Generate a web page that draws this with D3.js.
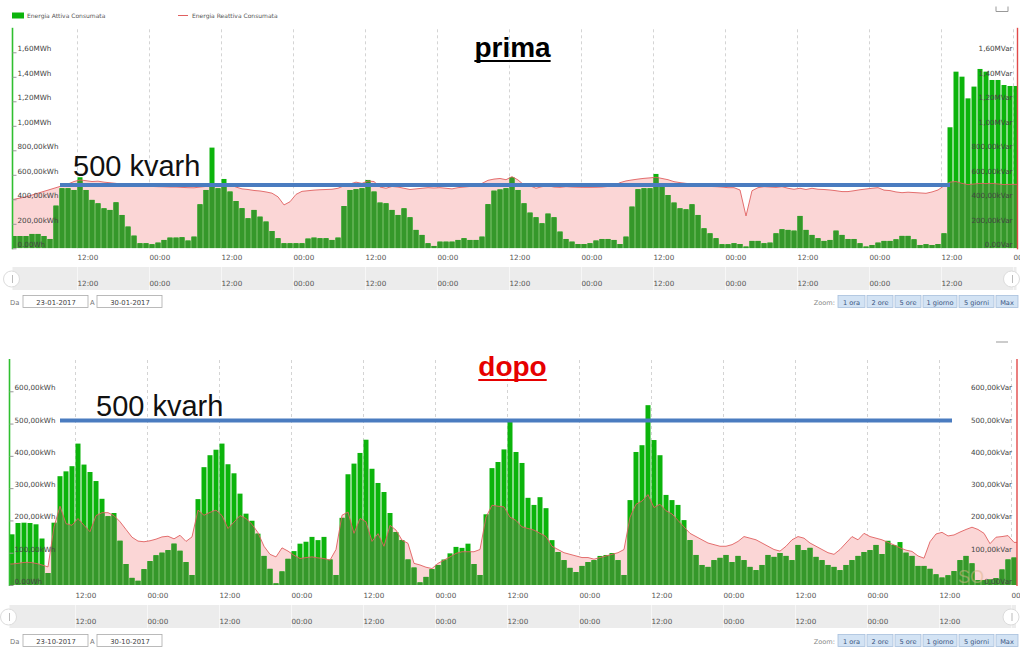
<!DOCTYPE html>
<html><head><meta charset="utf-8">
<script src="https://cdn.jsdelivr.net/npm/d3@7"></script>
<style>body{margin:0;background:#fff}svg{display:block}</style>
</head><body>
<svg id="c" width="1024" height="651"></svg>
<script>
// ---------- DATA ----------
const legendLabels = ["Energia Attiva Consumata", "Energia Reattiva Consumata"];
const zoomLabels = ["1 ora","2 ore","5 ore","1 giorno","5 giorni","Max"];
const timeTicks = [12,24,36,48,60,72,84,96,108,120,132,144,156,168];
const timeLabels = ["12:00","00:00","12:00","00:00","12:00","00:00","12:00","00:00","12:00","00:00","12:00","00:00","12:00","00:00"];

const topTickValues = [0,200,400,600,800,1000,1200,1400,1600];
const topLeftLabels = ["0.00Wh","200,00kWh","400,00kWh","600,00kWh","800,00kWh","1,00MWh","1,20MWh","1,40MWh","1,60MWh"];
const topRightLabels = ["0,00Var","200,00kVar","400,00kVar","600,00kVar","800,00kVar","1,00MVar","1,20MVar","1,40MVar","1,60MVar"];
const bottomTickValues = [0,100,200,300,400,500,600];
const bottomLeftLabels = ["0.00Wh","100,00kWh","200,00kWh","300,00kWh","400,00kWh","500,00kWh","600,00kWh"];
const bottomRightLabels = ["0,00Var","100,00kVar","200,00kVar","300,00kVar","400,00kVar","500,00kVar","600,00kVar"];

// "prima" (23-01-2017 .. 30-01-2017), hourly kWh
const topActive = [
100,100,100,117,117,100,76,348,490,490,
476,580,476,395,367,326,313,375,272,177,
103,41,41,33,46,68,87,87,90,63,
95,359,476,822,490,566,463,386,327,245,
313,258,218,141,82,41,41,41,41,79,
87,82,82,68,87,345,476,482,490,558,
463,373,367,313,272,326,253,150,109,41,
19,54,54,54,68,82,68,68,95,360,
470,480,490,580,476,367,291,253,204,283,
253,136,76,54,35,35,41,63,76,76,
68,35,95,340,482,490,490,607,503,435,
373,326,318,359,272,163,122,82,33,33,
41,35,14,60,60,41,46,122,155,150,
144,264,150,109,82,60,68,144,109,76,
76,41,14,27,46,60,60,73,101,101,
73,27,33,27,35,122,988,1442,1401,1224,
1320,1464,1442,1374,1374,1333,1325,1325];
const topReactive = [
400,410,420,435,450,465,480,495,510,525,
545,558,552,545,548,540,535,530,522,515,
512,508,505,505,503,502,500,500,497,495,
494,500,505,510,518,525,520,500,485,480,
472,468,460,450,420,354,380,440,465,470,
475,478,480,482,490,510,525,540,530,550,
545,500,490,505,500,490,480,485,490,495,
492,495,490,485,495,500,505,515,530,555,
565,570,560,585,558,517,510,490,503,510,
500,497,503,500,498,497,497,498,500,505,
510,536,550,558,565,571,575,580,570,560,
544,536,530,525,518,510,505,503,500,495,
495,476,264,470,495,503,500,497,503,490,
482,490,480,490,482,480,476,470,463,463,
470,478,484,490,495,475,471,460,454,458,
455,452,449,460,476,510,540,545,530,520,
525,530,528,530,525,520,522,522];

// "dopo" (23-10-2017 .. 30-10-2017), hourly kWh
const bottomActive = [
157,192,193,192,188,144,37,193,337,352,
368,438,373,350,322,267,213,223,137,65,
22,13,49,74,92,100,108,128,106,71,
31,266,365,402,419,438,374,346,283,221,
199,159,90,50,5,42,81,105,128,134,
149,139,149,79,31,208,343,376,409,450,
360,316,288,223,164,139,79,54,8,25,
49,62,79,98,118,115,128,65,31,219,
362,381,420,505,412,378,270,248,272,238,
139,102,77,53,40,59,71,77,90,93,
99,77,31,263,412,433,557,449,402,279,
263,248,201,139,93,62,56,77,84,93,
71,90,77,56,46,62,93,87,99,90,
77,124,108,115,87,77,62,56,46,62,
77,90,102,108,124,96,137,124,133,100,
90,59,59,50,33,23,30,43,77,90,
67,15,15,17,21,48,79,85];
const bottomReactive = [
65,67,70,70,67,62,56,180,244,190,
185,206,185,165,215,224,224,215,196,172,
148,136,134,137,142,149,151,143,154,135,
149,232,216,225,232,215,175,195,215,206,
188,162,120,95,87,115,105,92,82,85,
87,84,82,77,110,216,226,160,206,196,
135,159,120,185,170,139,129,67,62,55,
51,67,77,87,98,103,103,103,110,210,
247,244,242,210,200,180,175,170,160,150,
120,110,100,95,90,85,85,80,85,90,
95,100,110,210,250,260,280,240,250,230,
220,200,180,160,150,140,130,125,120,120,
125,135,150,145,140,130,120,110,105,120,
140,150,145,130,120,110,100,95,110,130,
150,140,160,150,145,140,132,124,115,108,
104,90,83,134,158,163,152,155,164,172,
179,172,160,128,148,150,153,132];

const annotationValue = 500;
const annotationText = "500 kvarh";

// ---------- DRAWING ----------
const svg = d3.select("#c");
const defs = svg.append("defs");
const SMALL = "DejaVu Sans, Verdana, sans-serif";
const GREEN = "#0cb40c", DARK = "#35982a", PINK = "#fbd6d6", RED = "#e06060";

function drawChart(cfg){
  const g = svg.append("g");
  const x = d3.scaleLinear().domain([0,168]).range([cfg.x0, cfg.x0 + 1008]);
  const y = d3.scaleLinear().domain([0,cfg.yMax]).range([cfg.zeroY, cfg.topY]);
  const ph = cfg.zeroY - cfg.topY;

  const clip = cfg.id + "-clip";
  defs.append("clipPath").attr("id", clip).append("rect")
    .attr("x", cfg.left).attr("y", cfg.topY).attr("width", cfg.right - cfg.left).attr("height", ph);
  const lblClip = cfg.id + "-lclip";
  defs.append("clipPath").attr("id", lblClip).append("rect")
    .attr("x", 0).attr("y", 0).attr("width", 1020).attr("height", 651);

  // grid
  g.append("g").attr("transform", `translate(0,${cfg.zeroY})`)
    .call(d3.axisBottom(x).tickValues(timeTicks).tickSize(-ph).tickFormat(""))
    .call(a => { a.select(".domain").remove();
      a.selectAll("line").attr("stroke", "#d4d4d4").attr("stroke-dasharray", "3,3"); });

  const plot = g.append("g").attr("clip-path", `url(#${clip})`);
  const cx = i => x(i + 1.5);
  const pts = [[cfg.left, cfg.reactive[0]]]
    .concat(cfg.reactive.map((v,i) => [cx(i), v]))
    .concat([[cfg.right, cfg.reactive[cfg.reactive.length-1]]]);
  const area = d3.area().x(d => d[0]).y0(cfg.zeroY).y1(d => y(d[1]));
  const line = d3.line().x(d => d[0]).y(d => y(d[1]));

  plot.append("path").attr("d", area(pts)).attr("fill", PINK);

  const barW = 5;
  plot.append("g").selectAll("rect").data(cfg.active).join("rect")
    .attr("x", (d,i) => cx(i) - barW/2).attr("width", barW)
    .attr("y", d => y(d)).attr("height", d => cfg.zeroY - y(d)).attr("fill", GREEN);

  const aclip = cfg.id + "-aclip";
  defs.append("clipPath").attr("id", aclip).append("path").attr("d", area(pts));
  plot.append("g").attr("clip-path", `url(#${aclip})`).selectAll("rect").data(cfg.active).join("rect")
    .attr("x", (d,i) => cx(i) - barW/2).attr("width", barW)
    .attr("y", d => y(d)).attr("height", d => cfg.zeroY - y(d)).attr("fill", DARK);

  plot.append("path").attr("d", line(pts)).attr("fill", "none").attr("stroke", RED).attr("stroke-width", 0.9);

  if (cfg.watermark) {
    g.append("text").attr("x", 958).attr("y", cfg.zeroY - 2).text(cfg.watermark)
      .attr("font-family", "Liberation Sans, Arial, sans-serif").attr("font-size", 18)
      .attr("fill", "#d9b48a").attr("opacity", 0.5);
  }

  // axis lines
  g.append("line").attr("x1", cfg.left).attr("x2", cfg.left).attr("y1", cfg.topY).attr("y2", cfg.zeroY + 1)
    .attr("stroke", "#2fbf2f").attr("stroke-width", 1.6);
  g.append("line").attr("x1", cfg.right).attr("x2", cfg.right).attr("y1", cfg.topY).attr("y2", cfg.zeroY + 1)
    .attr("stroke", "#e24a4a").attr("stroke-width", 1.4);

  // left axis
  g.append("g").attr("transform", `translate(${cfg.left},0)`)
    .call(d3.axisRight(y).tickValues(cfg.ticks).tickFormat((d,i) => cfg.leftLabels[i]).tickSize(4).tickPadding(1))
    .call(a => { a.select(".domain").remove();
      a.selectAll("line").attr("stroke", "#999");
      a.selectAll("text").attr("dy", "-0.2em").attr("font-size", 7.2).attr("font-family", SMALL).attr("fill", "#444"); });
  // right axis
  g.append("g").attr("transform", `translate(${cfg.right},0)`)
    .call(d3.axisLeft(y).tickValues(cfg.ticks).tickFormat((d,i) => cfg.rightLabels[i]).tickSize(0).tickPadding(5))
    .call(a => { a.select(".domain").remove();
      a.selectAll("text").attr("dy", "-0.2em").attr("font-size", 7.2).attr("font-family", SMALL).attr("fill", "#444"); });

  // time axis
  g.append("g").attr("clip-path", `url(#${lblClip})`).append("g").attr("transform", `translate(0,${cfg.labelY})`)
    .call(d3.axisBottom(x).tickValues(timeTicks).tickFormat((d,i) => timeLabels[i]).tickSize(0).tickPadding(0))
    .call(a => { a.select(".domain").remove();
      a.selectAll("text").attr("text-anchor", "start").attr("dy", 0).attr("y", 0)
        .attr("font-size", 7.2).attr("font-family", SMALL).attr("fill", "#555"); });

  // navigator
  const nav = g.append("g");
  nav.append("rect").attr("x", cfg.left).attr("y", cfg.navY).attr("width", cfg.right - cfg.left - 1).attr("height", 23).attr("fill", "#ececec");
  nav.append("g").attr("transform", `translate(0,${cfg.navY + 23})`)
    .call(d3.axisBottom(x).tickValues(timeTicks).tickSize(-23).tickFormat(""))
    .call(a => { a.select(".domain").remove(); a.selectAll("line").attr("stroke", "#f7f7f7"); });
  nav.append("g").attr("clip-path", `url(#${lblClip})`).append("g").attr("transform", `translate(0,${cfg.navY + 19})`)
    .call(d3.axisBottom(x).tickValues(timeTicks.slice(0,13)).tickFormat((d,i) => timeLabels[i]).tickSize(0).tickPadding(0))
    .call(a => { a.select(".domain").remove();
      a.selectAll("text").attr("text-anchor", "start").attr("dy", 0).attr("y", 0)
        .attr("font-size", 7.2).attr("font-family", SMALL).attr("fill", "#555"); });
  [[cfg.left - 1, 1], [cfg.right - 6, -1]].forEach(([hx]) => {
    nav.append("circle").attr("cx", hx).attr("cy", cfg.navY + 12).attr("r", 8)
      .attr("fill", "#fff").attr("stroke", "#dcdcdc");
    nav.append("line").attr("x1", hx + 1).attr("x2", hx + 1).attr("y1", cfg.navY + 8).attr("y2", cfg.navY + 16)
      .attr("stroke", "#bbb");
  });

  // date inputs
  const dr = g.append("g").attr("font-family", SMALL).attr("font-size", 6.8).attr("fill", "#444");
  dr.append("text").attr("x", 10).attr("y", cfg.dateY + 9).text("Da").attr("fill", "#777");
  dr.append("rect").attr("x", 23).attr("y", cfg.dateY).attr("width", 65).attr("height", 12).attr("fill", "#fff").attr("stroke", "#aaa").attr("stroke-width", 0.8);
  dr.append("text").attr("x", 56).attr("y", cfg.dateY + 9).attr("text-anchor", "middle").text(cfg.dateFrom);
  dr.append("text").attr("x", 90).attr("y", cfg.dateY + 9).text("A").attr("fill", "#777");
  dr.append("rect").attr("x", 97).attr("y", cfg.dateY).attr("width", 65).attr("height", 12).attr("fill", "#fff").attr("stroke", "#aaa").attr("stroke-width", 0.8);
  dr.append("text").attr("x", 130).attr("y", cfg.dateY + 9).attr("text-anchor", "middle").text(cfg.dateTo);

  // zoom buttons
  const zb = g.append("g").attr("font-family", SMALL).attr("font-size", 6.6);
  const widths = [27,26,26,34,35,22];
  let bx = 1018 - d3.sum(widths) - 2*(widths.length-1);
  zb.append("text").attr("x", bx - 3).attr("y", cfg.dateY + 9).attr("text-anchor", "end").attr("fill", "#888").text("Zoom:");
  zoomLabels.forEach((t,i) => {
    zb.append("rect").attr("x", bx).attr("y", cfg.dateY).attr("width", widths[i]).attr("height", 12)
      .attr("fill", "#d3e3f4").attr("stroke", "#a7bfdc").attr("stroke-width", 0.8);
    zb.append("text").attr("x", bx + widths[i]/2).attr("y", cfg.dateY + 9).attr("text-anchor", "middle").attr("fill", "#3a5580").text(t);
    bx += widths[i] + 2;
  });

  // annotation: 500 kvarh line
  g.append("line").attr("x1", 60).attr("x2", cfg.annEnd).attr("y1", y(annotationValue) + cfg.annShift).attr("y2", y(annotationValue) + cfg.annShift)
    .attr("stroke", "#4a7cc0").attr("stroke-width", 4);
  g.append("text").attr("x", cfg.annX).attr("y", cfg.annBase).text(annotationText)
    .attr("font-family", "Liberation Sans, Arial, sans-serif").attr("font-size", 29).attr("fill", "#111");

  // title
  const tt = g.append("text").attr("x", 512.5).attr("y", cfg.titleBase).attr("text-anchor", "middle").text(cfg.title)
    .attr("font-family", "Liberation Sans, Arial, sans-serif").attr("font-weight", "bold").attr("font-size", 28).attr("fill", cfg.titleColor);
  const tw = tt.node().getComputedTextLength();
  g.append("line").attr("x1", 512.5 - tw/2).attr("x2", 512.5 + tw/2).attr("y1", cfg.titleBase + 4).attr("y2", cfg.titleBase + 4)
    .attr("stroke", cfg.titleColor).attr("stroke-width", 2.2);
}

// legend (top chart)
const lg = svg.append("g").attr("font-family", SMALL).attr("font-size", 6).attr("fill", "#555");
lg.append("rect").attr("x", 12).attr("y", 12.5).attr("width", 12).attr("height", 6).attr("fill", GREEN);
lg.append("text").attr("x", 27).attr("y", 18).text(legendLabels[0]);
lg.append("line").attr("x1", 178).attr("x2", 188).attr("y1", 15.5).attr("y2", 15.5).attr("stroke", RED);
lg.append("text").attr("x", 192).attr("y", 18).text(legendLabels[1]);
// small icons
svg.append("path").attr("d", "M996,6.5 v5 h12 v-5").attr("fill", "none").attr("stroke", "#999").attr("stroke-width", 1);
svg.append("line").attr("x1", 996).attr("x2", 1008).attr("y1", 342).attr("y2", 342).attr("stroke", "#999").attr("stroke-width", 1);

drawChart({id:"top", active: topActive, reactive: topReactive, x0: 5, left: 12.5, right: 1017.5,
  zeroY: 248.3, topY: 27.8, yMax: 1800, ticks: topTickValues, leftLabels: topLeftLabels, rightLabels: topRightLabels,
  labelY: 260, navY: 267, dateY: 295.5, dateFrom: "23-01-2017", dateTo: "30-01-2017",
  title: "prima", titleColor: "#000", titleBase: 57, annEnd: 950, annShift: -2, annX: 73, annBase: 176});

drawChart({id:"bot", active: bottomActive, reactive: bottomReactive, x0: 3, left: 9.5, right: 1017,
  zeroY: 585, topY: 359, yMax: 700, ticks: bottomTickValues, leftLabels: bottomLeftLabels, rightLabels: bottomRightLabels,
  labelY: 598, navY: 605, dateY: 634.5, dateFrom: "23-10-2017", dateTo: "30-10-2017",
  title: "dopo", titleColor: "#e60000", titleBase: 376, annEnd: 952, annShift: -3, annX: 96, annBase: 416, watermark: "SO"});
</script>
</body></html>
